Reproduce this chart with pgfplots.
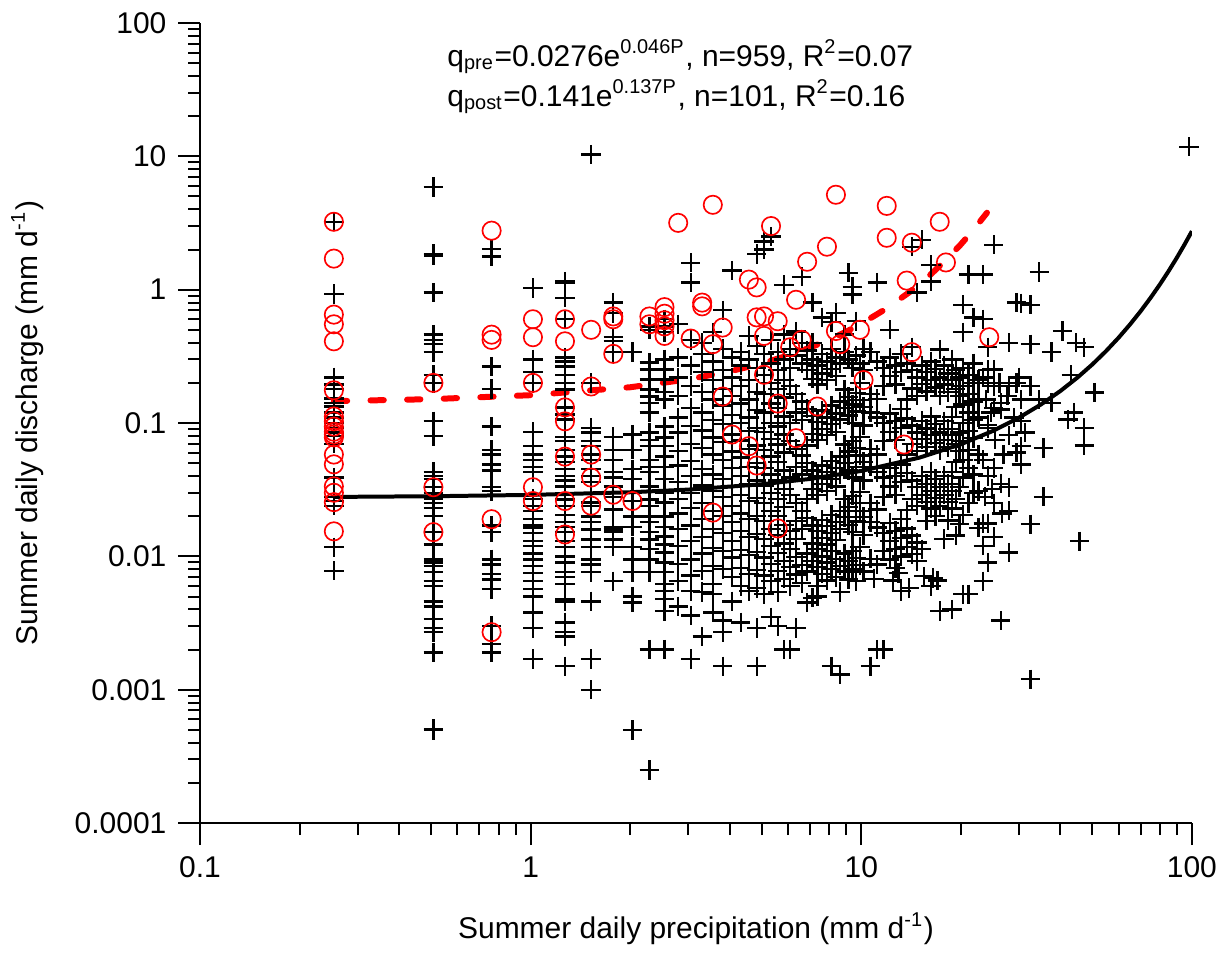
\documentclass[border=0pt]{standalone}
\usepackage{pgfplots}
\pgfplotsset{compat=1.18}
\usepackage{fontspec}
\setmainfont{Liberation Sans}
\begin{document}
\begin{tikzpicture}
\begin{axis}[
  scale only axis, width=297.9pt, height=240.3pt,
  xmode=log, ymode=log, xmin=0.1, xmax=100, ymin=0.0001, ymax=100,
  axis x line*=bottom, axis y line*=left,
  axis line style={-, line width=0.6pt},
  tick align=outside, major tick length=6.6pt, minor tick length=3.6pt,
  every tick/.append style={black, line width=0.6pt},
  xtick={0.1,1,10,100}, xticklabels={0.1,1,10,100},
  ytick={0.0001,0.001,0.01,0.1,1,10,100}, yticklabels={0.0001,0.001,0.01,0.1,1,10,100},
  minor xtick={0.2,0.3,0.4,0.5,0.6,0.7,0.8,0.9,2,3,4,5,6,7,8,9,20,30,40,50,60,70,80,90},
  minor ytick={0.0002,0.0003,0.0004,0.0005,0.0006,0.0007,0.0008,0.0009,0.002,0.003,0.004,0.005,0.006,0.007,0.008,0.009,0.02,0.03,0.04,0.05,0.06,0.07,0.08,0.09,0.2,0.3,0.4,0.5,0.6,0.7,0.8,0.9,2,3,4,5,6,7,8,9,20,30,40,50,60,70,80,90},
  tick label style={font=\fontsize{9}{11}\selectfont},
  label style={font=\fontsize{9}{11}\selectfont},
  xlabel={Summer daily precipitation (mm d\textsuperscript{-1})},
  ylabel={Summer daily discharge (mm d\textsuperscript{-1})},
  xlabel style={at={(rel axis cs:0.5,-0.132)}, anchor=center},
  ylabel style={at={(rel axis cs:-0.174,0.5)}, anchor=center},
]
% pre-disturbance observations (black crosses)
\addplot[only marks, mark=+, mark size=2.9pt, mark options={line width=0.7pt, black}] coordinates {
(0.254,3.23)(0.254,0.93)(0.254,0.22)(0.254,0.194)(0.254,0.18)(0.254,0.153)(0.254,0.142)(0.254,0.133)(0.254,0.12)(0.254,0.11)(0.254,0.1)(0.254,0.092)(0.254,0.085)(0.254,0.08)(0.254,0.07)(0.254,0.039)(0.254,0.028)(0.254,0.026)(0.254,0.024)(0.254,0.0117)(0.254,0.0078)
(0.508,5.9)(0.508,1.85)(0.508,1.8)(0.508,0.95)(0.508,0.46)(0.508,0.42)(0.508,0.39)(0.508,0.34)(0.508,0.23)(0.508,0.2)(0.508,0.103)(0.508,0.08)(0.508,0.043)(0.508,0.04)(0.508,0.038)(0.508,0.033)(0.508,0.03)(0.508,0.027)(0.508,0.025)(0.508,0.023)(0.508,0.02)(0.508,0.0152)(0.508,0.0123)(0.508,0.0095)(0.508,0.009)(0.508,0.0085)(0.508,0.0076)(0.508,0.0065)(0.508,0.006)(0.508,0.0046)(0.508,0.0042)(0.508,0.0034)(0.508,0.0029)(0.508,0.0027)(0.508,0.0019)(0.508,0.0005)(0.508,0.00051)
(0.762,2.03)(0.762,1.77)(0.762,0.265)(0.762,0.18)(0.762,0.094)(0.762,0.063)(0.762,0.058)(0.762,0.049)(0.762,0.044)(0.762,0.033)(0.762,0.031)(0.762,0.017)(0.762,0.0152)(0.762,0.0095)(0.762,0.0087)(0.762,0.0074)(0.762,0.0067)(0.762,0.0057)(0.762,0.003)(0.762,0.0022)(0.762,0.0019)
(1.016,1.03)(1.016,0.3)(1.016,0.24)(1.016,0.2)(1.016,0.086)(1.016,0.067)(1.016,0.058)(1.016,0.053)(1.016,0.047)(1.016,0.043)(1.016,0.027)(1.016,0.024)(1.016,0.022)(1.016,0.019)(1.016,0.017)(1.016,0.0165)(1.016,0.015)(1.016,0.013)(1.016,0.012)(1.016,0.0105)(1.016,0.0095)(1.016,0.0085)(1.016,0.0075)(1.016,0.0065)(1.016,0.0057)(1.016,0.005)(1.016,0.0038)(1.016,0.0029)(1.016,0.0017)
(1.27,1.15)(1.27,1.13)(1.27,0.87)(1.27,0.6)(1.27,0.31)(1.27,0.29)(1.27,0.265)(1.27,0.23)(1.27,0.2)(1.27,0.178)(1.27,0.131)(1.27,0.116)(1.27,0.106)(1.27,0.079)(1.27,0.073)(1.27,0.063)(1.27,0.056)(1.27,0.051)(1.27,0.045)(1.27,0.04)(1.27,0.037)(1.27,0.0335)(1.27,0.03)(1.27,0.0267)(1.27,0.024)(1.27,0.0205)(1.27,0.018)(1.27,0.0167)(1.27,0.0152)(1.27,0.013)(1.27,0.0117)(1.27,0.01)(1.27,0.009)(1.27,0.0076)(1.27,0.007)(1.27,0.0062)(1.27,0.0048)(1.27,0.0046)(1.27,0.0032)(1.27,0.0027)(1.27,0.0025)(1.27,0.0015)
(1.524,10.3)(1.524,0.2)(1.524,0.092)(1.524,0.085)(1.524,0.073)(1.524,0.067)(1.524,0.058)(1.524,0.053)(1.524,0.045)(1.524,0.04)(1.524,0.036)(1.524,0.03)(1.524,0.0254)(1.524,0.024)(1.524,0.0199)(1.524,0.018)(1.524,0.0159)(1.524,0.0134)(1.524,0.0118)(1.524,0.0095)(1.524,0.0087)(1.524,0.0076)(1.524,0.0046)(1.524,0.0017)(1.524,0.001)
(1.778,0.8)(1.778,0.67)(1.778,0.44)(1.778,0.41)(1.778,0.34)(1.778,0.079)(1.778,0.063)(1.778,0.053)(1.778,0.043)(1.778,0.039)(1.778,0.0335)(1.778,0.028)(1.778,0.0225)(1.778,0.0167)(1.778,0.0159)(1.778,0.0152)(1.778,0.0134)(1.778,0.0118)(1.778,0.0065)
(2.032,0.34)(2.032,0.082)(2.032,0.063)(2.032,0.045)(2.032,0.038)(2.032,0.03)(2.032,0.026)(2.032,0.0199)(2.032,0.0167)(2.032,0.0118)(2.032,0.0095)(2.032,0.0076)(2.032,0.005)(2.032,0.0045)(2.032,0.0005)
(2.286,0.53)(2.286,0.5)(2.286,0.284)(2.286,0.252)(2.286,0.212)(2.286,0.178)(2.286,0.158)(2.286,0.142)(2.286,0.12)(2.286,0.085)(2.286,0.075)(2.286,0.067)(2.286,0.053)(2.286,0.047)(2.286,0.043)(2.286,0.0335)(2.286,0.0267)(2.286,0.024)(2.286,0.0199)(2.286,0.018)(2.286,0.0152)(2.286,0.0134)(2.286,0.0113)(2.286,0.0095)(2.286,0.0076)(2.286,0.002)(2.286,0.00025)
(2.54,0.6)(2.54,0.53)(2.54,0.48)(2.54,0.3)(2.54,0.252)(2.54,0.212)(2.54,0.17)(2.54,0.15)(2.54,0.094)(2.54,0.078)(2.54,0.067)(2.54,0.056)(2.54,0.047)(2.54,0.038)(2.54,0.03)(2.54,0.0254)(2.54,0.0199)(2.54,0.0167)(2.54,0.0141)(2.54,0.0123)(2.54,0.0107)(2.54,0.009)(2.54,0.0076)(2.54,0.0062)(2.54,0.0055)(2.54,0.0048)(2.54,0.0039)(2.54,0.002)
(2.794,0.55)(2.794,0.31)(2.794,0.22)(2.794,0.16)(2.794,0.11)(2.794,0.085)(2.794,0.062)(2.794,0.048)(2.794,0.036)(2.794,0.027)(2.794,0.021)(2.794,0.016)(2.794,0.012)(2.794,0.0088)(2.794,0.0065)(2.794,0.0042)
(3.048,1.59)(3.048,1.13)(3.048,0.42)(3.048,0.27)(3.048,0.19)(3.048,0.13)(3.048,0.095)(3.048,0.07)(3.048,0.052)(3.048,0.04)(3.048,0.03)(3.048,0.023)(3.048,0.017)(3.048,0.013)(3.048,0.0095)(3.048,0.0072)(3.048,0.0055)(3.048,0.0036)(3.048,0.0017)
(3.302,0.4)(3.302,0.33)(3.302,0.24)(3.302,0.17)(3.302,0.12)(3.302,0.088)(3.302,0.065)(3.302,0.045)(3.302,0.034)(3.302,0.025)(3.302,0.019)(3.302,0.014)(3.302,0.0105)(3.302,0.0078)(3.302,0.0054)(3.302,0.0025)
(3.556,0.48)(3.556,0.29)(3.556,0.21)(3.556,0.15)(3.556,0.105)(3.556,0.078)(3.556,0.058)(3.556,0.041)(3.556,0.031)(3.556,0.022)(3.556,0.016)(3.556,0.0115)(3.556,0.0085)(3.556,0.0062)(3.556,0.0052)(3.556,0.0038)
(3.81,0.7)(3.81,0.36)(3.81,0.25)(3.81,0.18)(3.81,0.135)(3.81,0.098)(3.81,0.072)(3.81,0.053)(3.81,0.038)(3.81,0.028)(3.81,0.02)(3.81,0.015)(3.81,0.011)(3.81,0.008)(3.81,0.0033)(3.81,0.0027)(3.81,0.0015)
(4.064,1.39)(4.064,0.31)(4.064,0.22)(4.064,0.16)(4.064,0.115)(4.064,0.082)(4.064,0.061)(4.064,0.046)(4.064,0.033)(4.064,0.024)(4.064,0.018)(4.064,0.013)(4.064,0.0098)(4.064,0.007)(4.064,0.0046)
(4.318,0.34)(4.318,0.27)(4.318,0.19)(4.318,0.14)(4.318,0.1)(4.318,0.074)(4.318,0.055)(4.318,0.04)(4.318,0.029)(4.318,0.021)(4.318,0.0155)(4.318,0.0112)(4.318,0.0082)(4.318,0.006)(4.318,0.0032)
(4.572,0.45)(4.572,0.3)(4.572,0.21)(4.572,0.15)(4.572,0.11)(4.572,0.087)(4.572,0.064)(4.572,0.047)(4.572,0.035)(4.572,0.026)(4.572,0.019)(4.572,0.014)(4.572,0.0102)(4.572,0.0074)(4.572,0.0055)
(4.826,1.85)(4.826,0.38)(4.826,0.26)(4.826,0.17)(4.826,0.125)(4.826,0.092)(4.826,0.068)(4.826,0.05)(4.826,0.037)(4.826,0.0275)(4.826,0.02)(4.826,0.0148)(4.826,0.0108)(4.826,0.0079)(4.826,0.0058)(4.826,0.0029)(4.826,0.0015)
(5.08,2.3)(5.08,2.0)(5.08,0.33)(5.08,0.23)(5.08,0.165)(5.08,0.12)(5.08,0.086)(5.08,0.063)(5.08,0.046)(5.08,0.034)(5.08,0.025)(5.08,0.0185)(5.08,0.0135)(5.08,0.0098)(5.08,0.0072)(5.08,0.0052)
(5.334,2.5)(5.334,0.42)(5.334,0.28)(5.334,0.2)(5.334,0.14)(5.334,0.1)(5.334,0.076)(5.334,0.056)(5.334,0.041)(5.334,0.03)(5.334,0.022)(5.334,0.016)(5.334,0.012)(5.334,0.0088)(5.334,0.0065)(5.334,0.0035)
(5.588,0.34)(5.588,0.25)(5.588,0.18)(5.588,0.13)(5.588,0.094)(5.588,0.069)(5.588,0.051)(5.588,0.037)(5.588,0.027)(5.588,0.02)(5.588,0.0145)(5.588,0.0106)(5.588,0.0078)(5.588,0.0054)(5.588,0.003)
(5.842,1.09)(5.842,0.46)(5.842,0.3)(5.842,0.21)(5.842,0.155)(5.842,0.112)(5.842,0.082)(5.842,0.06)(5.842,0.044)(5.842,0.032)(5.842,0.0235)(5.842,0.0172)(5.842,0.0125)(5.842,0.0092)(5.842,0.0068)(5.842,0.002)
(6.096,0.36)(6.096,0.26)(6.096,0.19)(6.096,0.1)(6.096,0.073)(6.096,0.039)(6.096,0.029)(6.096,0.0155)(6.096,0.0113)(6.096,0.0083)(6.096,0.006)(6.096,0.002)
(6.35,0.485)(6.35,0.32)(6.35,0.165)(6.35,0.12)(6.35,0.064)(6.35,0.047)(6.35,0.025)(6.35,0.0185)(6.35,0.0135)(6.35,0.0099)(6.35,0.0073)(6.35,0.0029)
(6.604,1.25)(6.604,0.4)(6.604,0.28)(6.604,0.145)(6.604,0.105)(6.604,0.057)(6.604,0.041)(6.604,0.022)(6.604,0.016)(6.604,0.0086)(6.604,0.0063)
(6.858,0.35)(6.858,0.25)(6.858,0.128)(6.858,0.068)(6.858,0.05)(6.858,0.027)(6.858,0.0195)(6.858,0.0105)(6.858,0.0077)(6.858,0.0045)
(7.112,0.8)(7.112,0.4)(7.112,0.3)(7.112,0.215)(7.112,0.113)(7.112,0.083)(7.112,0.044)(7.112,0.032)(7.112,0.017)(7.112,0.0125)(7.112,0.0092)(7.112,0.0049)
(7.366,0.27)(7.366,0.195)(7.366,0.102)(7.366,0.075)(7.366,0.04)(7.366,0.029)(7.366,0.0155)(7.366,0.0113)(7.366,0.0083)(7.366,0.006)(7.366,0.005)
(7.62,0.62)(7.62,0.33)(7.62,0.235)(7.62,0.124)(7.62,0.09)(7.62,0.048)(7.62,0.035)(7.62,0.0187)(7.62,0.0137)(7.62,0.01)(7.62,0.0074)
(7.874,0.29)(7.874,0.21)(7.874,0.11)(7.874,0.081)(7.874,0.043)(7.874,0.031)(7.874,0.0168)(7.874,0.0123)(7.874,0.009)(7.874,0.0066)
(8.128,0.57)(8.128,0.36)(8.128,0.255)(8.128,0.135)(8.128,0.098)(8.128,0.052)(8.128,0.038)(8.128,0.0205)(8.128,0.015)(8.128,0.011)(8.128,0.008)(8.128,0.0015)
(8.382,0.67)(8.382,0.31)(8.382,0.225)(8.382,0.118)(8.382,0.086)(8.382,0.046)(8.382,0.0335)(8.382,0.018)(8.382,0.0132)(8.382,0.0096)(8.382,0.007)
(8.636,0.28)(8.636,0.145)(8.636,0.106)(8.636,0.056)(8.636,0.041)(8.636,0.022)(8.636,0.016)(8.636,0.0085)(8.636,0.0054)(8.636,0.0013)
(8.89,0.46)(8.89,0.34)(8.89,0.178)(8.89,0.13)(8.89,0.069)(8.89,0.05)(8.89,0.027)(8.89,0.0197)(8.89,0.0105)(8.89,0.0077)
(9.144,1.34)(9.144,0.3)(9.144,0.157)(9.144,0.114)(9.144,0.061)(9.144,0.044)(9.144,0.0235)(9.144,0.0172)(9.144,0.0092)(9.144,0.0067)
(9.398,1.05)(9.398,0.92)(9.398,0.26)(9.398,0.138)(9.398,0.1)(9.398,0.073)(9.398,0.039)(9.398,0.0285)(9.398,0.0152)(9.398,0.011)(9.398,0.008)
(9.652,0.58)(9.652,0.32)(9.652,0.168)(9.652,0.122)(9.652,0.065)(9.652,0.047)(9.652,0.025)(9.652,0.0183)(9.652,0.0097)(9.652,0.0065)
(9.906,0.28)(9.906,0.2)(9.906,0.148)(9.906,0.079)(9.906,0.057)(9.906,0.0305)(9.906,0.022)(9.906,0.0118)(9.906,0.0086)
(10.16,0.36)(10.16,0.25)(10.16,0.132)(10.16,0.096)(10.16,0.051)(10.16,0.037)(10.16,0.0197)(10.16,0.0144)(10.16,0.0077)
(10.67,0.34)(10.67,0.165)(10.67,0.12)(10.67,0.064)(10.67,0.047)(10.67,0.025)(10.67,0.018)(10.67,0.0096)(10.67,0.0015)
(10.92,0.0068)
(11.18,1.13)(11.18,0.29)(11.18,0.152)(11.18,0.11)(11.18,0.058)(11.18,0.043)(11.18,0.0225)(11.18,0.0165)(11.18,0.0087)(11.18,0.002)
(11.68,0.26)(11.68,0.19)(11.68,0.1)(11.68,0.073)(11.68,0.039)(11.68,0.028)(11.68,0.015)(11.68,0.011)(11.68,0.002)
(12.19,0.5)(12.19,0.31)(12.19,0.225)(12.19,0.118)(12.19,0.086)(12.19,0.046)(12.19,0.0335)(12.19,0.0178)(12.19,0.013)(12.19,0.0095)
(12.45,0.0066)
(12.7,0.27)(12.7,0.195)(12.7,0.103)(12.7,0.075)(12.7,0.04)(12.7,0.029)(12.7,0.0155)(12.7,0.0113)(12.7,0.0082)
(12.95,0.0075)
(13.21,0.33)(13.21,0.24)(13.21,0.127)(13.21,0.092)(13.21,0.049)(13.21,0.036)(13.21,0.019)(13.21,0.0138)(13.21,0.01)(13.21,0.0055)
(13.72,0.28)(13.72,0.15)(13.72,0.108)(13.72,0.058)(13.72,0.042)(13.72,0.0222)(13.72,0.0162)(13.72,0.0118)
(13.97,0.0058)
(14.22,2.1)(14.22,0.37)(14.22,0.25)(14.22,0.182)(14.22,0.096)(14.22,0.07)(14.22,0.037)(14.22,0.027)(14.22,0.0143)(14.22,0.0104)
(14.73,0.95)(14.73,0.22)(14.73,0.16)(14.73,0.085)(14.73,0.062)(14.73,0.033)(14.73,0.024)(14.73,0.0127)(14.73,0.0092)
(15.24,2.37)(15.24,0.27)(15.24,0.196)(15.24,0.104)(15.24,0.076)(15.24,0.04)(15.24,0.029)(15.24,0.0113)
(15.49,0.0071)
(15.75,0.24)(15.75,0.172)(15.75,0.091)(15.75,0.066)(15.75,0.035)(15.75,0.0255)(15.75,0.0185)
(16.26,1.54)(16.26,1.15)(16.26,0.29)(16.26,0.21)(16.26,0.112)(16.26,0.081)(16.26,0.043)(16.26,0.031)(16.26,0.0228)(16.26,0.006)
(16.51,0.0069)
(16.76,0.255)(16.76,0.185)(16.76,0.098)(16.76,0.071)(16.76,0.038)(16.76,0.0275)(16.76,0.02)
(17.02,0.0066)
(17.27,0.355)(17.27,0.22)(17.27,0.16)(17.27,0.085)(17.27,0.062)(17.27,0.033)(17.27,0.024)(17.27,0.0039)
(17.78,0.27)(17.78,0.195)(17.78,0.103)(17.78,0.075)(17.78,0.04)(17.78,0.029)(17.78,0.0135)
(18.29,0.235)(18.29,0.17)(18.29,0.09)(18.29,0.066)(18.29,0.035)(18.29,0.0255)(18.29,0.0186)
(18.8,0.3)(18.8,0.21)(18.8,0.111)(18.8,0.081)(18.8,0.043)(18.8,0.031)(18.8,0.0228)(18.8,0.004)
(19.3,0.25)(19.3,0.18)(19.3,0.132)(19.3,0.07)(19.3,0.051)(19.3,0.027)(19.3,0.0143)
(19.81,0.22)(19.81,0.16)(19.81,0.085)(19.81,0.062)(19.81,0.033)(19.81,0.0175)
(20.32,0.77)(20.32,0.48)(20.32,0.26)(20.32,0.19)(20.32,0.138)(20.32,0.1)(20.32,0.073)(20.32,0.053)(20.32,0.039)(20.32,0.0205)(20.32,0.0052)
(21.08,1.3)(21.08,0.23)(21.08,0.165)(21.08,0.12)(21.08,0.087)(21.08,0.063)(21.08,0.046)(21.08,0.025)(21.08,0.0052)
(21.84,0.62)(21.84,0.28)(21.84,0.2)(21.84,0.145)(21.84,0.105)(21.84,0.077)(21.84,0.041)(21.84,0.03)
(22.61,0.21)(22.61,0.15)(22.61,0.11)(22.61,0.058)(22.61,0.031)(22.61,0.0164)
(23.37,1.3)(23.37,0.6)(23.37,0.22)(23.37,0.053)(23.37,0.0176)(23.37,0.012)(23.37,0.0065)(23.62,0.028)(23.88,0.15)
(24.13,0.37)(24.13,0.25)(24.13,0.2)(24.13,0.097)(24.13,0.092)(24.13,0.04)(24.13,0.0176)(24.13,0.009)(24.64,0.12)(24.89,0.032)
(25.15,2.17)(25.15,0.252)(25.15,0.19)(25.15,0.13)(25.15,0.046)(25.15,0.025)(25.15,0.014)(25.4,0.075)(26.16,0.2)
(26.42,0.142)(26.42,0.126)(26.42,0.035)(26.42,0.0033)(26.67,0.021)(26.92,0.058)(27.69,0.16)
(27.94,0.4)(27.94,0.19)(27.94,0.081)(27.94,0.033)(27.94,0.0107)(27.94,0.022)(28.96,0.11)(29.97,0.22)
(29.46,0.8)(29.46,0.2)(29.46,0.06)(31.24,0.085)
(30.48,0.79)(30.48,0.15)(30.48,0.103)(30.48,0.049)(30.48,0.067)
(32.51,0.77)(32.51,0.39)(32.51,0.19)(32.51,0.0174)(32.51,0.0012)
(34.54,1.36)(34.54,0.15)(35.56,0.065)(35.56,0.028)(37.59,0.34)(37.59,0.142)
(40.64,0.49)(42.16,0.106)(43.18,0.23)(43.94,0.12)(44.7,0.4)(45.72,0.013)
(47.24,0.37)(47.24,0.092)(47.24,0.068)(50.8,0.169)(98,11.8)
};
% post-disturbance observations (red circles)
\addplot[only marks, mark=o, mark size=2.75pt, mark options={line width=0.5pt, red}] coordinates {
(0.254,3.23)(0.254,1.71)(0.254,0.65)(0.254,0.55)(0.254,0.41)(0.254,0.176)(0.254,0.112)(0.254,0.103)(0.254,0.094)(0.254,0.086)(0.254,0.082)(0.254,0.078)(0.254,0.058)(0.254,0.049)(0.254,0.0335)(0.254,0.03)(0.254,0.0255)(0.254,0.0154)
(0.508,0.2)(0.508,0.033)(0.508,0.0152)
(0.762,2.77)(0.762,0.46)(0.762,0.42)(0.762,0.019)(0.762,0.0027)
(1.016,0.6)(1.016,0.44)(1.016,0.2)(1.016,0.033)(1.016,0.026)
(1.27,0.6)(1.27,0.41)(1.27,0.131)(1.27,0.103)(1.27,0.056)(1.27,0.026)(1.27,0.0146)
(1.524,0.5)(1.524,0.188)(1.524,0.058)(1.524,0.039)(1.524,0.024)
(1.778,0.63)(1.778,0.6)(1.778,0.33)(1.778,0.029)
(2.032,0.026)(2.286,0.63)(2.286,0.55)
(2.54,0.74)(2.54,0.66)(2.54,0.59)(2.54,0.53)(2.54,0.45)
(2.794,3.17)(3.048,0.43)(3.302,0.8)(3.302,0.75)(3.556,4.33)(3.556,0.39)(3.81,0.52)(4.572,1.19)(4.826,0.62)(4.826,1.04)
(5.334,3.0)(8.382,5.15)(11.94,4.25)(17.27,3.23)(11.94,2.45)(14.22,2.25)(18.03,1.6)(7.874,2.1)(6.858,1.62)(6.35,0.84)(13.72,1.17)
(5.588,0.58)(5.08,0.63)(5.08,0.45)(6.604,0.42)(6.096,0.37)(8.636,0.39)(8.382,0.49)(9.906,0.5)(14.22,0.34)(24.38,0.44)
(5.08,0.23)(10.16,0.21)(5.588,0.14)(7.366,0.133)(6.35,0.077)(4.826,0.048)(13.46,0.069)(5.588,0.0162)
(3.81,0.158)(4.064,0.082)(4.572,0.067)(3.556,0.0213)
};
% fit pre: q = 0.0276 exp(0.046 P)
\addplot[black, line width=1.2pt] coordinates {
(0.254,0.02792)(0.5,0.02824)(1,0.0289)(2,0.03026)(3,0.03168)(5,0.03474)(7,0.03809)(10,0.04372)(15,0.05503)(20,0.06926)(25,0.08717)(30,0.10971)(35,0.13808)(40,0.17378)(45,0.21873)(50,0.27529)(55,0.34648)(60,0.43607)(65,0.54885)(70,0.69078)(75,0.86941)(80,1.09424)(85,1.37721)(90,1.73336)(95,2.1816)(100,2.74577)
};
% fit post: q = 0.141 exp(0.137 P)
\addplot[red, line width=1.8pt, line cap=round, dash pattern=on 4pt off 7pt] coordinates {
(0.254,0.14591)(0.5,0.151)(1,0.1617)(2,0.18545)(3,0.21267)(4,0.2439)(5,0.27971)(6,0.32078)(7,0.36788)(8,0.4219)(9,0.48385)(10,0.55488)(12,0.7298)(14,0.95983)(16,1.26238)(18,1.66029)(20,2.18366)(22,2.87199)(24,3.77723)
};
\node[anchor=base west, font=\fontsize{9}{11}\selectfont, inner sep=0pt] at (rel axis cs:0.2487,0.946) {q\textsubscript{pre}=0.0276e\textsuperscript{0.046P}, n=959, R\textsuperscript{2}=0.07};
\node[anchor=base west, font=\fontsize{9}{11}\selectfont, inner sep=0pt] at (rel axis cs:0.2487,0.896) {q\textsubscript{post}=0.141e\textsuperscript{0.137P}, n=101, R\textsuperscript{2}=0.16};
\coordinate (BL) at (rel axis cs:-0.2014,-0.1586);
\coordinate (TR) at (rel axis cs:1.0352,1.0287);
\end{axis}
\path (BL) rectangle (TR);
\end{tikzpicture}
\end{document}
